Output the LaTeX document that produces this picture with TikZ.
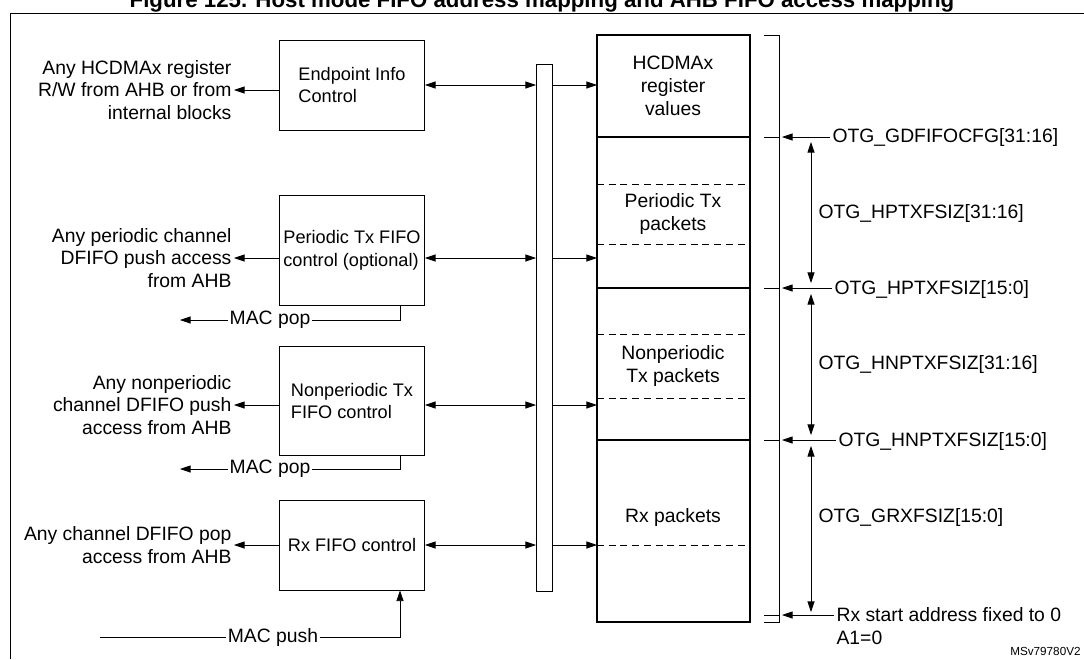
\documentclass[tikz,border=0pt]{standalone}
\usepackage{fontspec}
\setmainfont{Liberation Sans}
\usetikzlibrary{positioning,arrows.meta}
\begin{document}
\begin{tikzpicture}[x=0.03cm,y=-0.03cm]
	\tikzset{blk/.style={draw=black, thick, minimum width=4.35cm, align=left, inner xsep=3pt, font=\fontsize{15.5}{19.5}\selectfont},
		lbl/.style={align=right, anchor=east, font=\fontsize{16.5}{19.5}\selectfont, inner sep=2pt},
		reg/.style={anchor=west, font=\fontsize{16.5}{19.5}\selectfont, inner sep=2pt},
		arr/.style={semithick, -{Triangle[length=9pt,width=6pt]}},
		dbl/.style={semithick, {Triangle[length=9pt,width=6pt]}-{Triangle[length=9pt,width=6pt]}},
		dsh/.style={semithick, dash pattern=on 6pt off 4pt}};
	\useasboundingbox (0,0) rectangle (1084,659);
	\clip (0,0) rectangle (1084,659);

	% title, cut at the top
	\node[font=\bfseries\fontsize{19}{22}\selectfont] (title) at (542,2) {Figure 125. Host mode FIFO address mapping and AHB FIFO access mapping};
	\draw[thick] (10,659) -- (10,13) -- (1090,13);

	% left blocks
	\node[blk, minimum height=2.7cm] (ep) at (352,85) {Endpoint Info\\Control};
	\node[blk, minimum height=3.3cm] (ptx) at (352,250) {Periodic Tx FIFO\\control (optional)};
	\node[blk, minimum height=3.25cm] (nptx) at (352,401) {Nonperiodic Tx\\FIFO control};
	\node[blk, minimum height=2.7cm] (rx) at (352,545) {Rx FIFO control};

	% bus bar
	\node[draw, semithick, minimum width=0.48cm, minimum height=15.8cm, inner sep=0pt] (bus) at (544,328) {};

	% memory column
	\draw[very thick] (597,35) rectangle (750,622);
	\foreach \y in {137,288,440} \draw[very thick] (597,\y) -- (750,\y);
	\foreach \y in {184,244,334,398,545} \draw[dsh] (597,\y) -- (750,\y);
	\coordinate (m1) at (597,85);
	\coordinate (m2) at (597,258);
	\coordinate (m3) at (597,405);
	\coordinate (m4) at (597,545);
	\node[align=center, font=\fontsize{16.5}{19.5}\selectfont] (hc) at (673,86) {HCDMAx\\register\\values};
	\node[align=center, font=\fontsize{16.5}{19.5}\selectfont] (pp) at (673,214) {Periodic Tx\\packets};
	\node[align=center, font=\fontsize{16.5}{19.5}\selectfont] (np) at (673,366) {Nonperiodic\\Tx packets};
	\node[font=\fontsize{16.5}{19.5}\selectfont] (rp) at (673,517) {Rx packets};

	% block to bus to memory
	\foreach \b/\y/\m in {ep/85/m1, ptx/258/m2, nptx/405/m3, rx/545/m4} {
		\coordinate (bl) at (536,\y);
		\coordinate (br) at (552,\y);
		\draw[dbl] (\b.east |- bl) -- (bl);
		\draw[arr] (br) -- (\m);
	}

	% left side accesses
	\node[lbl] (t1) at (234,90) {Any HCDMAx register\\R/W from AHB or from\\internal blocks};
	\node[lbl] (t2) at (234,258) {Any periodic channel\\DFIFO push access\\from AHB};
	\node[lbl] (t3) at (234,405) {Any nonperiodic\\channel DFIFO push\\access from AHB};
	\node[lbl] (t4) at (234,545) {Any channel DFIFO pop\\access from AHB};
	\draw[arr] (ep.west |- t1) -- (t1);
	\draw[arr] (ptx.west |- t2) -- (t2);
	\draw[arr] (nptx.west |- t3) -- (t3);
	\draw[arr] (rx.west |- t4) -- (t4);

	% MAC pop / push
	\node[font=\fontsize{16.5}{19.5}\selectfont, inner sep=1pt] (pop1) at (270,320) {MAC pop};
	\node[font=\fontsize{16.5}{19.5}\selectfont, inner sep=1pt] (pop2) at (270,469) {MAC pop};
	\node[font=\fontsize{16.5}{19.5}\selectfont, inner sep=1pt] (push) at (273,637) {MAC push};
	\coordinate (s1) at (180,320);
	\coordinate (s2) at (180,469);
	\coordinate (s3) at (100,637);
	\draw[semithick] (ptx.south -| 400,0) |- (pop1);
	\draw[arr] (pop1) -- (s1);
	\draw[semithick] (nptx.south -| 400,0) |- (pop2);
	\draw[arr] (pop2) -- (s2);
	\draw[semithick] (s3) -- (push);
	\draw[arr] (push) -| (rx.south -| 400,0);

	% address bracket
	\draw[semithick] (764,35) -- (779,35) -- (779,622) -- (764,622);
	\node[reg] (g1) at (830,137) {OTG\_GDFIFOCFG[31:16]};
	\node[reg] (g2) at (816,213) {OTG\_HPTXFSIZ[31:16]};
	\node[reg] (g3) at (832,289) {OTG\_HPTXFSIZ[15:0]};
	\node[reg] (g4) at (816,364) {OTG\_HNPTXFSIZ[31:16]};
	\node[reg] (g5) at (836,441) {OTG\_HNPTXFSIZ[15:0]};
	\node[reg] (g6) at (816,517) {OTG\_GRXFSIZ[15:0]};
	\node[reg] (g7) at (834,615) {Rx start address fixed to 0};
	\node[reg] (g8) at (834,638) {A1=0};
	\foreach \g/\y in {g1/137, g3/288, g5/440, g7/615} {
		\coordinate (tk) at (782,\y);
		\draw[semithick] (764,\y) -- (779,\y);
		\draw[arr] (\g.west |- tk) -- (tk);
	}
	\coordinate (a1) at (811,142);
	\coordinate (a2) at (811,283);
	\coordinate (a3) at (811,294);
	\coordinate (a4) at (811,435);
	\coordinate (a5) at (811,446);
	\coordinate (a6) at (811,612);
	\draw[dbl] (a1) -- (a2);
	\draw[dbl] (a3) -- (a4);
	\draw[dbl] (a5) -- (a6);

	\node[anchor=south east, font=\fontsize{10}{12}\selectfont, inner sep=1pt] (id) at (1082,657) {MSv79780V2};
\end{tikzpicture}
\end{document}
